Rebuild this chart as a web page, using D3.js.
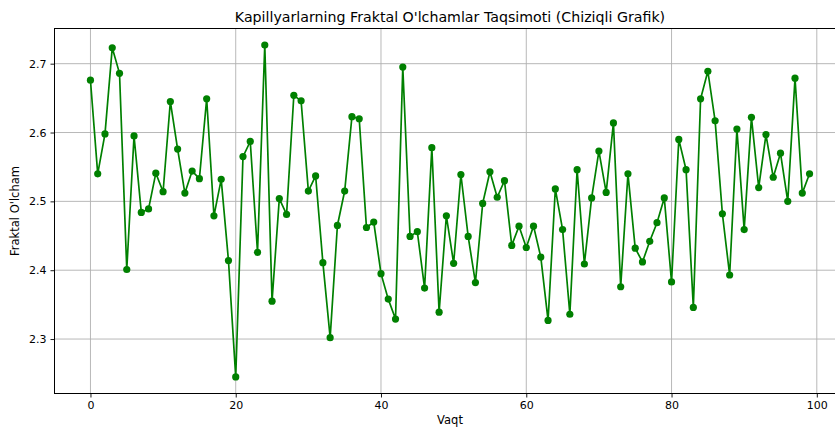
<!DOCTYPE html>
<html><head><meta charset="utf-8">
<script src="https://cdn.jsdelivr.net/npm/d3@7"></script>
<style>body{margin:0;background:#fff;} svg{display:block;} text{font-family:"DejaVu Sans",sans-serif;fill:#000;}</style>
</head><body><svg id="c" width="835" height="428"></svg>
<script>
const xValues = d3.range(0, 100);
const yValues = [
2.676,2.540,2.598,2.723,2.686,2.401,2.595,2.484,2.489,2.541,
2.514,2.645,2.576,2.512,2.544,2.533,2.649,2.479,2.532,2.414,
2.245,2.565,2.587,2.426,2.727,2.355,2.504,2.481,2.654,2.646,
2.515,2.537,2.411,2.302,2.465,2.515,2.623,2.620,2.462,2.470,
2.395,2.358,2.329,2.695,2.449,2.456,2.374,2.578,2.339,2.479,
2.410,2.539,2.449,2.382,2.497,2.543,2.506,2.530,2.436,2.464,
2.433,2.464,2.419,2.327,2.518,2.459,2.336,2.546,2.409,2.505,
2.573,2.513,2.614,2.376,2.540,2.432,2.412,2.442,2.469,2.505,
2.383,2.590,2.546,2.346,2.649,2.689,2.617,2.482,2.393,2.605,
2.459,2.622,2.520,2.597,2.535,2.570,2.500,2.679,2.512,2.540];
const xTicks = [0,20,40,60,80,100];
const yTicks = [2.3,2.4,2.5,2.6,2.7];
const title = "Kapillyarlarning Fraktal O'lchamlar Taqsimoti (Chiziqli Grafik)";
const xLabel = "Vaqt";
const yLabel = "Fraktal O'lcham";

const L = 54.5, R = 845.5, T = 28.5, B = 393.5;
const svg = d3.select("#c");
const xMin = d3.min(xValues), xMax = d3.max(xValues);
const xm = (xMax - xMin) * 0.05;
const yMin = d3.min(yValues), yMax = d3.max(yValues);
const ym = (yMax - yMin) * 0.05;
const x = d3.scaleLinear().domain([xMin - xm, xMax + xm]).range([L, R]);
const y = d3.scaleLinear().domain([yMin - ym, yMax + ym]).range([B, T]);

const clipId = "plotclip";
svg.append("defs").append("clipPath").attr("id", clipId)
  .append("rect").attr("x", L).attr("y", T).attr("width", R - L).attr("height", B - T);

// grid
const grid = svg.append("g");
grid.selectAll(".gx").data(xTicks).join("line")
  .attr("x1", d => x(d)).attr("x2", d => x(d)).attr("y1", T).attr("y2", B)
  .attr("stroke", "#b0b0b0").attr("stroke-width", 0.9);
grid.selectAll(".gy").data(yTicks).join("line")
  .attr("x1", L).attr("x2", R).attr("y1", d => y(d)).attr("y2", d => y(d))
  .attr("stroke", "#b0b0b0").attr("stroke-width", 0.9);

// axes
const xAxis = d3.axisBottom(x).tickValues(xTicks).tickSize(4).tickPadding(4).tickFormat(d3.format("d"));
const yAxis = d3.axisLeft(y).tickValues(yTicks).tickSize(4).tickPadding(4).tickFormat(d3.format(".1f"));
const gx = svg.append("g").attr("transform", `translate(0,${B})`).call(xAxis);
const gy = svg.append("g").attr("transform", `translate(${L},0)`).call(yAxis);
[gx, gy].forEach(g => {
  g.select(".domain").remove();
  g.selectAll("text").attr("font-size", "11px").attr("font-family", "DejaVu Sans").attr("fill", "#000");
  g.selectAll("line").attr("stroke", "#000").attr("stroke-width", 0.9);
});
// spines
svg.append("rect").attr("x", L).attr("y", T).attr("width", R - L).attr("height", B - T)
  .attr("fill", "none").attr("stroke", "#000").attr("stroke-width", 1);

// data
const pts = xValues.map((d, i) => [d, yValues[i]]);
const g = svg.append("g").attr("clip-path", `url(#${clipId})`);
g.append("path").datum(pts)
  .attr("d", d3.line().x(d => x(d[0])).y(d => y(d[1])))
  .attr("fill", "none").attr("stroke", "#008000").attr("stroke-width", 1.7);
g.selectAll("circle").data(pts).join("circle")
  .attr("cx", d => x(d[0])).attr("cy", d => y(d[1])).attr("r", 3.6).attr("fill", "#008000");

// labels
svg.append("text").attr("x", (L + R) / 2).attr("y", 22).attr("text-anchor", "middle")
  .attr("font-size", "14.2px").text(title);
svg.append("text").attr("x", (L + R) / 2).attr("y", 424).attr("text-anchor", "middle")
  .attr("font-size", "11.5px").text(xLabel);
svg.append("text").attr("transform", `translate(19,${(T + B) / 2}) rotate(-90)`).attr("text-anchor", "middle")
  .attr("font-size", "11.5px").text(yLabel);
</script></body></html>
